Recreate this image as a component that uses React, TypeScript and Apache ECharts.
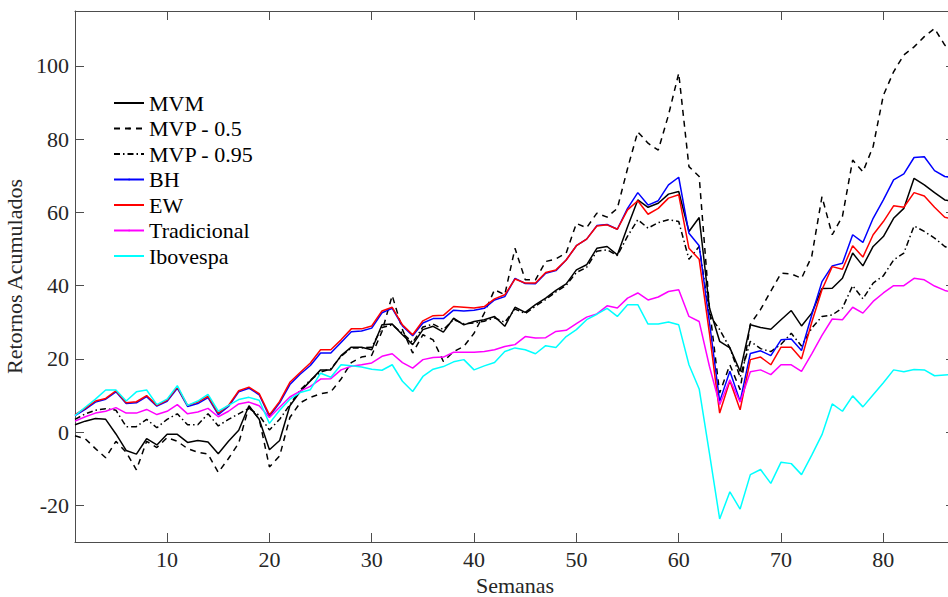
import React, { useEffect, useRef } from "react";
import * as echarts from "echarts";

const weeks: number[] = Array.from({ length: 87 }, (_, i) => i + 1);

const xTicks = [10, 20, 30, 40, 50, 60, 70, 80];
const yTicks = [-20, 0, 20, 40, 60, 80, 100];

const seriesNames = ["MVM", "MVP - 0.5", "MVP - 0.95", "BH", "EW", "Tradicional", "Ibovespa"];

const mvm = [2, 3, 3.7, 3.5, -0.5, -5, -6, -1.8, -3.5, -0.6, -0.6, -2.8, -2.3, -2.7, -5.9, -2.5, 0.5, 7.2, 3.5, -4.8,
  -2.3, 7.2, 11, 14, 17, 17, 20.9, 23.2, 23.2, 22.5, 29.3, 29.5, 26.6, 23.9, 28, 28.9, 27.3, 31.1, 29.3, 30.2,
  30.7, 31.6, 28.9, 34.1, 32.7, 34.8, 36.6, 38.7, 40.5, 44.3, 45.7, 50.2, 50.7, 48.4, 56.1, 63.4, 61.4, 62.5, 65, 65.7,
  54.8, 58.6, 34, 24.8, 23, 16.6, 29.3, 28.6, 28.1, 30.7, 33.2, 29, 32.5, 39.2, 39.3, 42, 48.9, 45.4, 50.7, 53.4,
  58.4, 61.1, 69.3, 67.5, 65.4, 63.4, 63];

const mvp05 = [-1, -1.8, -4.5, -7, -2.5, -5.5, -10.3, -2.5, -4.2, -1.5, -2.5, -4.5, -5.5, -6, -11, -7.2, -3, 7, 3.6, -9.5,
  -6.5, 4, 8, 9.5, 10.5, 11, 14.5, 19, 20.5, 21, 27.5, 37.3, 28, 21.6, 26.6, 25.2, 19.3, 22, 23.4, 27,
  32.5, 38.9, 37.5, 50.2, 41.6, 41.6, 46.6, 47.3, 48.9, 57, 55.8, 59.8, 58.7, 61.1, 72, 82, 78.9, 77, 86.6, 98,
  72.5, 69.8, 34, 10.7, 18.4, 11.6, 29.5, 33.5, 38.5, 43.4, 43.2, 42, 48, 64.3, 53.9, 58.9, 74.3, 71.1, 78, 92,
  98.4, 103, 105.2, 108, 110.2, 105.7, 103];

const mvp095 = [3.5, 5, 6, 6.4, 6, 1.5, 1.5, 3.5, 1.2, 3.5, 5, 2, 2, 5, 1.7, 3.5, 5, 6.5, 4.6, 0.6,
  3.5, 7.5, 11.5, 14.2, 16.4, 17.3, 20.7, 23, 23, 23.2, 28.6, 29.3, 27, 24.5, 28.7, 29.5, 28, 30.7, 29.6, 29.8,
  30.3, 31.2, 30, 33.6, 32.4, 34.4, 36.2, 38.3, 40.1, 43.6, 45, 49.4, 49.8, 48.2, 53.5, 58, 55.7, 57.2, 58, 57.5,
  47.2, 50.7, 32, 28, 23, 15, 24.8, 22.8, 22, 24, 27, 23.5, 28.4, 31.6, 32, 33.9, 40, 36.4, 40.7, 42.7,
  47, 48.9, 56.3, 54.8, 53, 50.7, 49.5];

const bh = [4.5, 6.2, 8.2, 9, 11, 7.8, 8, 9.7, 7.1, 8.4, 12, 7, 7.8, 9.4, 4.8, 7, 11, 12, 10.2, 4.3,
  8, 13, 15.8, 18.2, 21.6, 21.6, 24.5, 27.4, 27.6, 28.4, 32.6, 33.8, 29, 26.3, 29.8, 31, 31, 33.3, 33.1, 33.3,
  33.8, 36.1, 37, 42, 40.6, 40.5, 43.4, 44.1, 47, 50.9, 52.7, 56.4, 56.7, 55.4, 61.1, 65.4, 62, 63.2, 67.5, 69.6,
  54.3, 50.9, 30, 8.4, 16.6, 8.4, 21.5, 22.2, 20.9, 25.2, 25.4, 22.3, 32, 41.1, 45.4, 46.1, 53.9, 51.8, 58.4, 63.4,
  68.9, 70.5, 75, 75.2, 71.4, 69.8, 69.5];

const ew = [4.8, 6.5, 8.5, 9.2, 11.3, 8, 8.3, 10, 7.3, 8.7, 12.3, 7.3, 8.2, 9.8, 5.2, 7.3, 11.3, 12.3, 10.5, 4.7,
  8.4, 13.6, 16.3, 18.9, 22.5, 22.5, 25.2, 28.2, 28.2, 29, 33.1, 34.1, 29.3, 26.6, 30.4, 31.8, 31.9, 34.3, 34.1, 33.9,
  34.3, 36.4, 37.5, 41.8, 40.7, 40.7, 43.6, 44.3, 47, 50.9, 52.7, 56.3, 56.6, 55.4, 60.7, 63.2, 59.5, 61.1, 63.9, 64.8,
  50.2, 47.2, 27, 5.2, 14, 6.1, 19.8, 20.5, 18.4, 23.2, 23.2, 20, 30, 38.9, 45.2, 44.5, 50.9, 47.8, 53.9, 57.5,
  61.8, 61.4, 65.4, 64.5, 61.4, 58.7, 58];

const tradicional = [3, 4.2, 5.2, 5.7, 6.7, 5.2, 5.2, 6.2, 4.8, 5.7, 7.5, 5, 5.5, 6.5, 4.2, 5.7, 7.7, 8.2, 7.2, 4,
  6.8, 9.6, 11.2, 12.5, 14.5, 14.6, 17, 18, 18.4, 18.9, 20.7, 21.4, 19, 17.5, 19.8, 20.4, 20.5, 21.8, 21.8, 21.8,
  22, 22.5, 23.4, 23.9, 26.1, 25.7, 25.8, 27.5, 27.8, 29.6, 31.4, 32.3, 34.5, 33.9, 36.6, 38, 36.1, 36.9, 38.4, 38.9,
  31.6, 30.2, 18, 7.5, 14.3, 8.2, 16.5, 17, 15.7, 18.4, 18.4, 16.6, 21.4, 26.4, 30.9, 30.7, 34.1, 32.5, 35.7, 38,
  40, 40, 42, 41.6, 39.9, 38.7, 38];

const ibovespa = [4.5, 6.8, 9, 11.5, 11.5, 8.5, 11, 11.5, 7.5, 9, 12.7, 7.3, 8.5, 10.3, 5.7, 7.3, 8.9, 9.5, 8.7, 2.4,
  6, 9, 10.8, 11.6, 16.1, 15, 18.4, 18.1, 17.8, 17.2, 16.9, 18.4, 13.9, 11.1, 15.2, 17.2, 17.9, 19.2, 19.8, 17,
  18.1, 19, 22, 23, 22.5, 21.4, 23.6, 23.1, 26.1, 28, 30.7, 32.2, 33.8, 31.6, 34.8, 34.8, 29.5, 29.5, 30.1, 29.3,
  18.4, 11.8, -5.7, -23.7, -16.3, -21, -11.6, -10.2, -14, -8.2, -8.6, -11.6, -6.3, -0.7, 7.7, 5.7, 9.9, 6.9, 10.2, 13.5,
  17, 16.5, 17.1, 17, 15.4, 15.6, 15.8];

const FONT = "Liberation Serif";
const AXIS_COLOR = "#4d4d4d";
const LABEL_COLOR = "#262626";

export default function App() {
  const ref = useRef<HTMLDivElement>(null);

  useEffect(() => {
    if (!ref.current) return;
    const chart = echarts.init(ref.current, undefined, { renderer: "svg" });

    const values = [mvm, mvp05, mvp095, bh, ew, tradicional, ibovespa];
    const colors = ["#000000", "#000000", "#000000", "#0000ff", "#ff0000", "#ff00ff", "#00ffff"];
    const dashTypes: any[] = ["solid", [6, 5], [6, 3, 1.5, 3], "solid", "solid", "solid", "solid"];

    const series = seriesNames.map((name, k) => ({
      name,
      type: "line",
      data: weeks.map((w, i) => [w, values[k][i]]),
      symbol: "none",
      showSymbol: false,
      color: colors[k],
      lineStyle: { color: colors[k], width: 1.5, type: dashTypes[k] },
      itemStyle: { color: colors[k] },
      z: 2 + k,
    }));

    const tickCommon = { inside: true, length: 9, lineStyle: { color: AXIS_COLOR, width: 1 } };
    const lineCommon = { show: true, onZero: false, lineStyle: { color: AXIS_COLOR, width: 1 } };

    const legendText = { fontSize: 22, fontFamily: FONT, color: "#000", lineHeight: 22 };

    chart.setOption({
      animation: false,
      textStyle: { fontFamily: FONT },
      grid: { left: 75, right: 7, top: 11, bottom: 55, outerBoundsMode: "none", containLabel: false },
      legend: {
        orient: "vertical",
        left: 113,
        top: 92,
        padding: 0,
        itemWidth: 30,
        itemHeight: 2,
        itemGap: 3.5,
        textStyle: legendText,
        data: seriesNames.map((name) => ({ name, textStyle: legendText })),
      },
      xAxis: [
        {
          type: "value",
          min: 1,
          max: 87,
          position: "bottom",
          name: "Semanas",
          nameLocation: "middle",
          nameGap: 30,
          nameTextStyle: { fontSize: 22, color: LABEL_COLOR, fontFamily: FONT },
          axisLine: lineCommon,
          axisTick: { ...tickCommon, customValues: xTicks },
          axisLabel: { customValues: xTicks, fontSize: 22, color: LABEL_COLOR, fontFamily: FONT, margin: 6 },
          splitLine: { show: false },
        },
        {
          type: "value",
          min: 1,
          max: 87,
          position: "top",
          axisLine: lineCommon,
          axisTick: { ...tickCommon, customValues: xTicks },
          axisLabel: { show: false },
          splitLine: { show: false },
        },
      ],
      yAxis: [
        {
          type: "value",
          min: -30,
          max: 115,
          position: "left",
          name: "Retornos Acumulados",
          nameLocation: "middle",
          nameGap: 36,
          nameTextStyle: { fontSize: 22, color: LABEL_COLOR, fontFamily: FONT },
          axisLine: lineCommon,
          axisTick: { ...tickCommon, customValues: yTicks },
          axisLabel: { customValues: yTicks, fontSize: 22, color: LABEL_COLOR, fontFamily: FONT, margin: 6 },
          splitLine: { show: false },
        },
        {
          type: "value",
          min: -30,
          max: 115,
          position: "right",
          axisLine: lineCommon,
          axisTick: { ...tickCommon, customValues: yTicks },
          axisLabel: { show: false },
          splitLine: { show: false },
        },
      ],
      series,
    });

    return () => chart.dispose();
  }, []);

  return (
    <div style={{ position: "absolute", left: 0, top: 0, width: 948, height: 597, overflow: "hidden", background: "#fff" }}>
      <div ref={ref} style={{ width: 962, height: 597 }} />
    </div>
  );
}
